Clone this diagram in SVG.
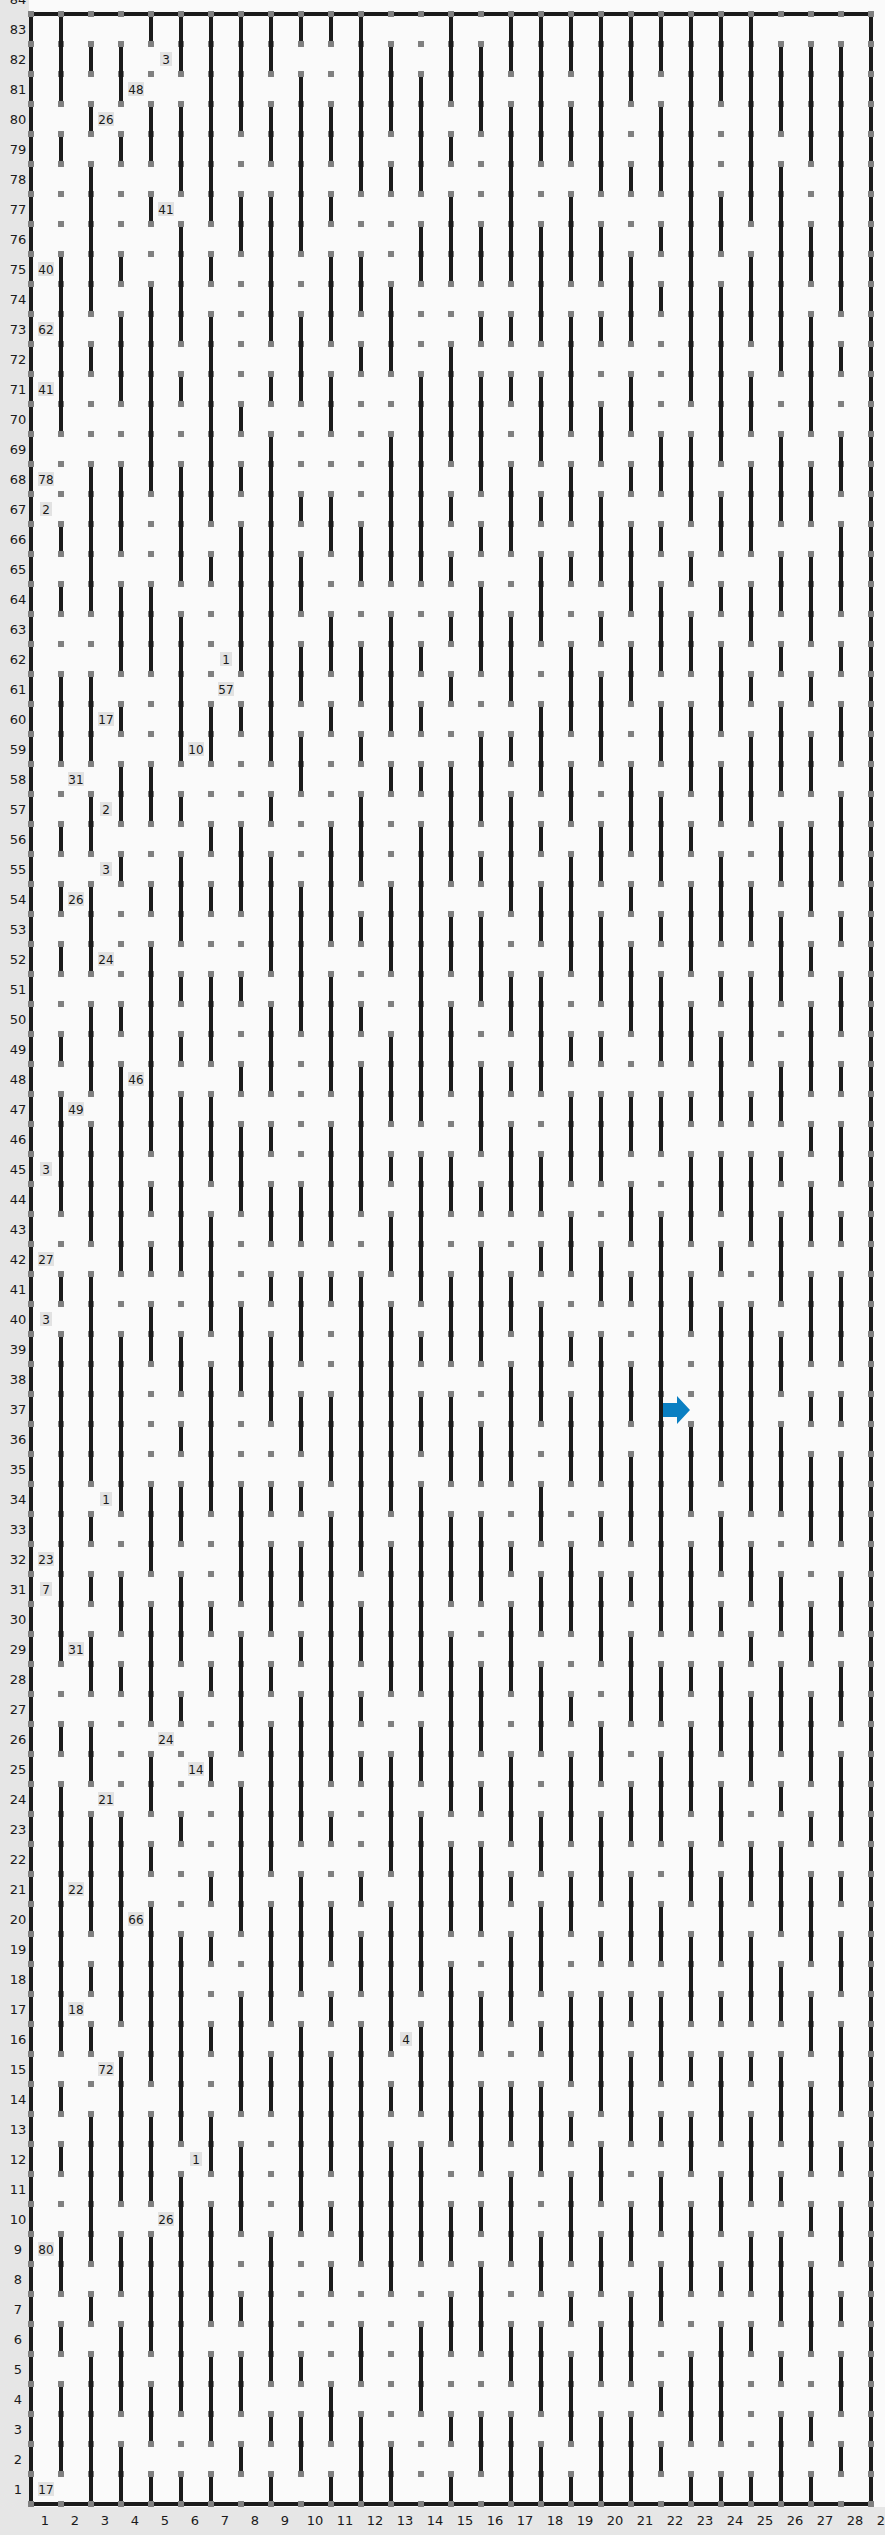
<svg xmlns="http://www.w3.org/2000/svg" width="885" height="2535" viewBox="0 0 885 2535">
<style>
.ax{font-family:"DejaVu Sans","Liberation Sans",sans-serif;font-size:13px;fill:#1a1a1a;text-anchor:middle}
.lb rect{fill:#e2e2e2}
.lb text{font-family:"DejaVu Sans","Liberation Sans",sans-serif;font-size:12px;fill:#1a1a1a;text-anchor:middle}
.wall{fill:none;stroke:#1a1a1a;stroke-width:4;stroke-linecap:butt;vector-effect:non-scaling-stroke}
</style>
<defs>
<pattern id="dots" patternUnits="userSpaceOnUse" x="28" y="11" width="30" height="30">
<rect x="0" y="0" width="6" height="6" fill="#808080"/>
</pattern>
</defs>
<rect x="0" y="0" width="885" height="2535" fill="#e6e6e6"/>
<rect x="29" y="0" width="856" height="2507" fill="#fafafa"/>
<g id="axis-rows" class="ax">
<text x="18" y="4">84</text><text x="18" y="34">83</text><text x="18" y="64">82</text><text x="18" y="94">81</text><text x="18" y="124">80</text><text x="18" y="154">79</text><text x="18" y="184">78</text><text x="18" y="214">77</text><text x="18" y="244">76</text><text x="18" y="274">75</text><text x="18" y="304">74</text><text x="18" y="334">73</text><text x="18" y="364">72</text><text x="18" y="394">71</text><text x="18" y="424">70</text><text x="18" y="454">69</text><text x="18" y="484">68</text><text x="18" y="514">67</text><text x="18" y="544">66</text><text x="18" y="574">65</text><text x="18" y="604">64</text><text x="18" y="634">63</text><text x="18" y="664">62</text><text x="18" y="694">61</text><text x="18" y="724">60</text><text x="18" y="754">59</text><text x="18" y="784">58</text><text x="18" y="814">57</text><text x="18" y="844">56</text><text x="18" y="874">55</text><text x="18" y="904">54</text><text x="18" y="934">53</text><text x="18" y="964">52</text><text x="18" y="994">51</text><text x="18" y="1024">50</text><text x="18" y="1054">49</text><text x="18" y="1084">48</text><text x="18" y="1114">47</text><text x="18" y="1144">46</text><text x="18" y="1174">45</text><text x="18" y="1204">44</text><text x="18" y="1234">43</text><text x="18" y="1264">42</text><text x="18" y="1294">41</text><text x="18" y="1324">40</text><text x="18" y="1354">39</text><text x="18" y="1384">38</text><text x="18" y="1414">37</text><text x="18" y="1444">36</text><text x="18" y="1474">35</text><text x="18" y="1504">34</text><text x="18" y="1534">33</text><text x="18" y="1564">32</text><text x="18" y="1594">31</text><text x="18" y="1624">30</text><text x="18" y="1654">29</text><text x="18" y="1684">28</text><text x="18" y="1714">27</text><text x="18" y="1744">26</text><text x="18" y="1774">25</text><text x="18" y="1804">24</text><text x="18" y="1834">23</text><text x="18" y="1864">22</text><text x="18" y="1894">21</text><text x="18" y="1924">20</text><text x="18" y="1954">19</text><text x="18" y="1984">18</text><text x="18" y="2014">17</text><text x="18" y="2044">16</text><text x="18" y="2074">15</text><text x="18" y="2104">14</text><text x="18" y="2134">13</text><text x="18" y="2164">12</text><text x="18" y="2194">11</text><text x="18" y="2224">10</text><text x="18" y="2254">9</text><text x="18" y="2284">8</text><text x="18" y="2314">7</text><text x="18" y="2344">6</text><text x="18" y="2374">5</text><text x="18" y="2404">4</text><text x="18" y="2434">3</text><text x="18" y="2464">2</text><text x="18" y="2494">1</text>
</g>
<g id="axis-cols" class="ax">
<text x="45" y="2525">1</text><text x="75" y="2525">2</text><text x="105" y="2525">3</text><text x="135" y="2525">4</text><text x="165" y="2525">5</text><text x="195" y="2525">6</text><text x="225" y="2525">7</text><text x="255" y="2525">8</text><text x="285" y="2525">9</text><text x="315" y="2525">10</text><text x="345" y="2525">11</text><text x="375" y="2525">12</text><text x="405" y="2525">13</text><text x="435" y="2525">14</text><text x="465" y="2525">15</text><text x="495" y="2525">16</text><text x="525" y="2525">17</text><text x="555" y="2525">18</text><text x="585" y="2525">19</text><text x="615" y="2525">20</text><text x="645" y="2525">21</text><text x="675" y="2525">22</text><text x="705" y="2525">23</text><text x="735" y="2525">24</text><text x="765" y="2525">25</text><text x="795" y="2525">26</text><text x="825" y="2525">27</text><text x="855" y="2525">28</text><text x="885" y="2525">29</text>
</g>
<g id="border">
<rect x="31" y="14" width="840" height="2490" fill="none" stroke="#1a1a1a" stroke-width="4"/>
</g>
<g id="grid-dots">
<rect x="28" y="11" width="846" height="2496" fill="url(#dots)"/>
</g>
<g id="connectors" transform="translate(31 2504) scale(30 -30)">
<path class="wall" d="M1 80.1V82.9M1 78.1V78.9M1 69.1V74.9M1 65.1V65.9M1 63.1V63.9M1 58.1V60.9M1 55.1V55.9M1 53.1V53.9M1 51.1V51.9M1 48.1V48.9M1 43.1V46.9M1 40.1V40.9M1 28.1V38.9M1 25.1V25.9M1 15.1V23.9M1 13.1V13.9M1 11.1V11.9M1 7.1V8.9M1 5.1V5.9M1 1.1V3.9"/>
<path class="wall" d="M2 81.1V81.9M2 79.1V79.9M2 73.1V77.9M2 71.1V71.9M2 63.1V67.9M2 58.1V60.9M2 55.1V56.9M2 51.1V53.9M2 47.1V49.9M2 42.1V45.9M2 34.1V40.9M2 32.1V32.9M2 30.1V30.9M2 27.1V28.9M2 24.1V25.9M2 19.1V22.9M2 17.1V17.9M2 15.1V15.9M2 8.1V12.9M2 6.1V6.9M2 0.1V4.9"/>
<path class="wall" d="M3 80.1V81.9M3 78.1V78.9M3 74.1V74.9M3 70.1V72.9M3 65.1V67.9M3 61.1V63.9M3 59.1V59.9M3 56.1V57.9M3 54.1V54.9M3 49.1V49.9M3 41.1V47.9M3 33.1V38.9M3 29.1V30.9M3 27.1V27.9M3 16.1V22.9M3 10.1V14.9M3 7.1V8.9M3 3.1V5.9M3 0.1V1.9"/>
<path class="wall" d="M4 82.1V82.9M4 78.1V79.9M4 76.1V76.9M4 67.1V73.9M4 61.1V63.9M4 56.1V57.9M4 53.1V53.9M4 45.1V51.9M4 43.1V43.9M4 41.1V41.9M4 38.1V39.9M4 31.1V33.9M4 26.1V29.9M4 23.1V24.9M4 21.1V21.9M4 14.1V19.9M4 10.1V12.9M4 5.1V8.9M4 2.1V3.9M4 0.1V0.9"/>
<path class="wall" d="M5 81.1V82.9M5 77.1V79.9M5 72.1V75.9M5 70.1V70.9M5 64.1V67.9M5 58.1V62.9M5 56.1V56.9M5 52.1V54.9M5 50.1V50.9M5 48.1V48.9M5 41.1V46.9M5 37.1V38.9M5 35.1V35.9M5 32.1V33.9M5 28.1V30.9M5 26.1V26.9M5 22.1V22.9M5 12.1V18.9M5 3.1V10.9M5 0.1V0.9"/>
<path class="wall" d="M6 76.1V82.9M6 74.1V74.9M6 66.1V72.9M6 64.1V64.9M6 58.1V59.9M6 55.1V55.9M6 53.1V53.9M6 48.1V50.9M6 44.1V46.9M6 39.1V42.9M6 33.1V37.9M6 29.1V29.9M6 27.1V27.9M6 24.1V24.9M6 20.1V20.9M6 18.1V18.9M6 15.1V15.9M6 11.1V12.9M6 6.1V9.9M6 2.1V4.9M6 0.1V0.9"/>
<path class="wall" d="M7 79.1V82.9M7 75.1V76.9M7 69.1V69.9M7 67.1V67.9M7 61.1V65.9M7 59.1V59.9M7 53.1V55.9M7 50.1V50.9M7 47.1V47.9M7 43.1V45.9M7 37.1V39.9M7 30.1V33.9M7 25.1V28.9M7 19.1V23.9M7 13.1V16.9M7 9.1V11.9M7 6.1V6.9M7 3.1V4.9M7 1.1V1.9"/>
<path class="wall" d="M8 81.1V82.9M8 78.1V79.9M8 72.1V76.9M8 70.1V70.9M8 58.1V68.9M8 56.1V56.9M8 51.1V54.9M8 47.1V49.9M8 45.1V45.9M8 42.1V43.9M8 40.1V40.9M8 36.1V38.9M8 33.1V33.9M8 29.1V31.9M8 27.1V27.9M8 21.1V25.9M8 16.1V19.9M8 13.1V14.9M8 4.1V8.9M8 2.1V2.9M8 0.1V0.9"/>
<path class="wall" d="M9 82.1V82.9M9 75.1V80.9M9 70.1V72.9M9 66.1V66.9M9 63.1V64.9M9 60.1V61.9M9 57.1V58.9M9 49.1V53.9M9 42.1V43.9M9 38.1V40.9M9 35.1V36.9M9 33.1V33.9M9 30.1V31.9M9 28.1V28.9M9 22.1V26.9M9 17.1V20.9M9 9.1V15.9M9 4.1V4.9M9 1.1V2.9"/>
<path class="wall" d="M10 82.1V82.9M10 78.1V79.9M10 76.1V76.9M10 72.1V74.9M10 69.1V70.9M10 65.1V66.9M10 61.1V62.9M10 59.1V59.9M10 52.1V55.9M10 47.1V50.9M10 42.1V45.9M10 40.1V40.9M10 34.1V36.9M10 24.1V32.9M10 22.1V22.9M10 18.1V19.9M10 16.1V16.9M10 11.1V14.9M10 9.1V9.9M10 7.1V7.9M10 2.1V3.9M10 0.1V0.9"/>
<path class="wall" d="M11 77.1V82.9M11 73.1V74.9M11 71.1V71.9M11 64.1V65.9M11 60.1V61.9M11 58.1V58.9M11 54.1V56.9M11 52.1V52.9M11 49.1V49.9M11 43.1V47.9M11 31.1V40.9M11 28.1V29.9M11 26.1V26.9M11 24.1V24.9M11 20.1V20.9M11 17.1V18.9M11 8.1V15.9M11 4.1V5.9M11 0.1V2.9"/>
<path class="wall" d="M12 79.1V81.9M12 77.1V77.9M12 71.1V73.9M12 64.1V68.9M12 59.1V62.9M12 57.1V57.9M12 51.1V53.9M12 46.1V48.9M12 44.1V44.9M12 41.1V42.9M12 33.1V39.9M12 27.1V31.9M12 21.1V24.9M12 15.1V19.9M12 13.1V13.9M12 7.1V11.9M12 0.1V1.9"/>
<path class="wall" d="M13 77.1V80.9M13 74.1V75.9M13 64.1V70.9M13 61.1V61.9M13 59.1V59.9M13 57.1V57.9M13 46.1V55.9M13 40.1V44.9M13 38.1V38.9M13 35.1V36.9M13 27.1V33.9M13 24.1V25.9M13 17.1V22.9M13 13.1V15.9M13 8.1V11.9M13 3.1V5.9"/>
<path class="wall" d="M14 80.1V82.9M14 78.1V78.9M14 74.1V76.9M14 68.1V71.9M14 66.1V66.9M14 64.1V64.9M14 62.1V62.9M14 60.1V60.9M14 54.1V57.9M14 51.1V52.9M14 47.1V49.9M14 43.1V44.9M14 38.1V40.9M14 34.1V36.9M14 30.1V32.9M14 23.1V28.9M14 19.1V21.9M14 12.1V17.9M14 8.1V9.9M14 5.1V6.9M14 2.1V2.9M14 0.1V0.9"/>
<path class="wall" d="M15 79.1V81.9M15 74.1V75.9M15 72.1V72.9M15 67.1V70.9M15 65.1V65.9M15 61.1V63.9M15 56.1V58.9M15 54.1V54.9M15 50.1V52.9M15 45.1V47.9M15 43.1V43.9M15 38.1V41.9M15 34.1V35.9M15 30.1V32.9M15 25.1V27.9M15 23.1V23.9M15 19.1V21.9M15 15.1V16.9M15 11.1V13.9M15 9.1V9.9M15 5.1V7.9M15 1.1V2.9"/>
<path class="wall" d="M16 81.1V82.9M16 74.1V79.9M16 72.1V72.9M16 70.1V70.9M16 65.1V67.9M16 60.1V62.9M16 58.1V58.9M16 53.1V56.9M16 49.1V50.9M16 47.1V47.9M16 43.1V45.9M16 39.1V40.9M16 34.1V37.9M16 31.1V31.9M16 27.1V29.9M16 22.1V24.9M16 20.1V20.9M16 16.1V18.9M16 12.1V13.9M16 8.1V10.9M16 4.1V5.9M16 0.1V2.9"/>
<path class="wall" d="M17 78.1V82.9M17 72.1V75.9M17 68.1V70.9M17 66.1V66.9M17 62.1V64.9M17 57.1V59.9M17 55.1V55.9M17 52.1V53.9M17 47.1V50.9M17 43.1V44.9M17 41.1V41.9M17 36.1V39.9M17 32.1V33.9M17 29.1V30.9M17 25.1V27.9M17 21.1V22.9M17 17.1V19.9M17 15.1V15.9M17 11.1V13.9M17 7.1V8.9M17 3.1V5.9M17 0.1V1.9"/>
<path class="wall" d="M18 81.1V82.9M18 78.1V79.9M18 74.1V76.9M18 69.1V72.9M18 66.1V67.9M18 64.1V64.9M18 59.1V61.9M18 56.1V57.9M18 51.1V54.9M18 48.1V48.9M18 44.1V46.9M18 41.1V42.9M18 38.1V38.9M18 34.1V36.9M18 29.1V31.9M18 26.1V26.9M18 22.1V24.9M18 19.1V20.9M18 14.1V16.9M18 12.1V12.9M18 8.1V10.9M18 6.1V6.9M18 2.1V4.9M18 0.1V0.9"/>
<path class="wall" d="M19 77.1V82.9M19 74.1V75.9M19 72.1V72.9M19 68.1V69.9M19 64.1V66.9M19 62.1V62.9M19 58.1V60.9M19 54.1V55.9M19 50.1V52.9M19 48.1V48.9M19 44.1V46.9M19 40.1V41.9M19 34.1V38.9M19 32.1V32.9M19 28.1V30.9M19 24.1V25.9M19 20.1V22.9M19 18.1V18.9M19 13.1V16.9M19 10.1V11.9M19 7.1V8.9M19 4.1V5.9M19 0.1V2.9"/>
<path class="wall" d="M20 80.1V82.9M20 77.1V77.9M20 72.1V74.9M20 69.1V70.9M20 67.1V67.9M20 63.1V65.9M20 60.1V61.9M20 55.1V57.9M20 53.1V53.9M20 49.1V51.9M20 45.1V46.9M20 42.1V43.9M20 40.1V40.9M20 36.1V37.9M20 32.1V34.9M20 30.1V30.9M20 26.1V28.9M20 22.1V23.9M20 18.1V20.9M20 16.1V16.9M20 12.1V14.9M20 8.1V9.9M20 4.1V6.9M20 0.1V2.9"/>
<path class="wall" d="M21 81.1V82.9M21 77.1V79.9M21 75.1V75.9M21 73.1V73.9M21 67.1V68.9M21 65.1V65.9M21 61.1V63.9M21 58.1V59.9M21 54.1V56.9M21 52.1V52.9M21 48.1V50.9M21 45.1V46.9M21 29.1V42.9M21 26.1V27.9M21 22.1V24.9M21 18.1V19.9M21 14.1V16.9M21 12.1V12.9M21 9.1V10.9M21 6.1V7.9M21 3.1V3.9M21 1.1V1.9"/>
<path class="wall" d="M22 70.1V82.9M22 66.1V68.9M22 64.1V64.9M22 61.1V62.9M22 57.1V59.9M22 55.1V55.9M22 51.1V53.9M22 48.1V49.9M22 46.1V46.9M22 42.1V44.9M22 39.1V40.9M22 33.1V35.9M22 29.1V31.9M22 27.1V27.9M22 23.1V25.9M22 20.1V21.9M22 16.1V18.9M22 14.1V14.9M22 11.1V12.9M22 7.1V9.9M22 2.1V4.9M22 0.1V0.9"/>
<path class="wall" d="M23 80.1V82.9M23 75.1V76.9M23 68.1V73.9M23 65.1V66.9M23 63.1V63.9M23 59.1V61.9M23 56.1V57.9M23 52.1V54.9M23 50.1V50.9M23 46.1V48.9M23 43.1V44.9M23 41.1V41.9M23 34.1V39.9M23 31.1V32.9M23 29.1V29.9M23 25.1V27.9M23 22.1V23.9M23 18.1V20.9M23 16.1V16.9M23 12.1V14.9M23 9.1V10.9M23 7.1V7.9M23 2.1V5.9M23 0.1V0.9"/>
<path class="wall" d="M24 76.1V82.9M24 72.1V74.9M24 69.1V70.9M24 65.1V67.9M24 62.1V63.9M24 60.1V60.9M24 56.1V58.9M24 52.1V53.9M24 48.1V50.9M24 46.1V46.9M24 42.1V44.9M24 33.1V39.9M24 30.1V31.9M24 28.1V28.9M24 24.1V26.9M24 20.1V21.9M24 16.1V18.9M24 14.1V14.9M24 10.1V12.9M24 7.1V8.9M24 5.1V5.9M24 0.1V0.9"/>
<path class="wall" d="M25 79.1V81.9M25 71.1V77.9M25 66.1V68.9M25 63.1V64.9M25 61.1V61.9M25 57.1V59.9M25 54.1V55.9M25 50.1V52.9M25 46.1V47.9M25 44.1V44.9M25 40.1V42.9M25 37.1V38.9M25 33.1V35.9M25 29.1V30.9M25 25.1V27.9M25 23.1V23.9M25 19.1V21.9M25 16.1V17.9M25 12.1V14.9M25 10.1V10.9M25 6.1V8.9M25 4.1V4.9M25 0.1V2.9"/>
<path class="wall" d="M26 78.1V81.9M26 74.1V75.9M26 69.1V72.9M26 66.1V67.9M26 62.1V64.9M26 60.1V60.9M26 57.1V58.9M26 53.1V55.9M26 51.1V51.9M26 47.1V49.9M26 45.1V45.9M26 42.1V43.9M26 38.1V40.9M26 36.1V36.9M26 32.1V34.9M26 28.1V29.9M26 24.1V26.9M26 22.1V22.9M26 18.1V20.9M26 15.1V16.9M26 11.1V13.9M26 9.1V9.9M26 5.1V7.9M26 2.1V2.9M26 0.1V0.9"/>
<path class="wall" d="M27 73.1V81.9M27 71.1V71.9M27 67.1V68.9M27 63.1V65.9M27 61.1V61.9M27 58.1V59.9M27 54.1V56.9M27 52.1V52.9M27 49.1V50.9M27 47.1V47.9M27 44.1V45.9M27 42.1V42.9M27 38.1V40.9M27 36.1V36.9M27 32.1V34.9M27 29.1V30.9M27 26.1V27.9M27 22.1V24.9M27 20.1V20.9M27 17.1V18.9M27 13.1V15.9M27 11.1V11.9M27 8.1V9.9M27 6.1V6.9M27 3.1V4.9M27 1.1V1.9"/>
</g>
<g id="marker-arrow">
<polygon points="663,1403 677,1403 677,1396 690,1410 677,1424 677,1417 663,1417" fill="#0a7fc2"/>
</g>
<g id="labels">
<g id="l1" class="lb"><rect x="160" y="52" width="12" height="14"/><text x="166" y="63.5">3</text></g>
<g id="l2" class="lb"><rect x="128" y="82" width="16" height="14"/><text x="136" y="93.5">48</text></g>
<g id="l3" class="lb"><rect x="98" y="112" width="16" height="14"/><text x="106" y="123.5">26</text></g>
<g id="l4" class="lb"><rect x="158" y="202" width="16" height="14"/><text x="166" y="213.5">41</text></g>
<g id="l5" class="lb"><rect x="38" y="262" width="16" height="14"/><text x="46" y="273.5">40</text></g>
<g id="l6" class="lb"><rect x="38" y="322" width="16" height="14"/><text x="46" y="333.5">62</text></g>
<g id="l7" class="lb"><rect x="38" y="382" width="16" height="14"/><text x="46" y="393.5">41</text></g>
<g id="l8" class="lb"><rect x="38" y="472" width="16" height="14"/><text x="46" y="483.5">78</text></g>
<g id="l9" class="lb"><rect x="40" y="502" width="12" height="14"/><text x="46" y="513.5">2</text></g>
<g id="l10" class="lb"><rect x="220" y="652" width="12" height="14"/><text x="226" y="663.5">1</text></g>
<g id="l11" class="lb"><rect x="218" y="682" width="16" height="14"/><text x="226" y="693.5">57</text></g>
<g id="l12" class="lb"><rect x="98" y="712" width="16" height="14"/><text x="106" y="723.5">17</text></g>
<g id="l13" class="lb"><rect x="188" y="742" width="16" height="14"/><text x="196" y="753.5">10</text></g>
<g id="l14" class="lb"><rect x="68" y="772" width="16" height="14"/><text x="76" y="783.5">31</text></g>
<g id="l15" class="lb"><rect x="100" y="802" width="12" height="14"/><text x="106" y="813.5">2</text></g>
<g id="l16" class="lb"><rect x="100" y="862" width="12" height="14"/><text x="106" y="873.5">3</text></g>
<g id="l17" class="lb"><rect x="68" y="892" width="16" height="14"/><text x="76" y="903.5">26</text></g>
<g id="l18" class="lb"><rect x="98" y="952" width="16" height="14"/><text x="106" y="963.5">24</text></g>
<g id="l19" class="lb"><rect x="128" y="1072" width="16" height="14"/><text x="136" y="1083.5">46</text></g>
<g id="l20" class="lb"><rect x="68" y="1102" width="16" height="14"/><text x="76" y="1113.5">49</text></g>
<g id="l21" class="lb"><rect x="40" y="1162" width="12" height="14"/><text x="46" y="1173.5">3</text></g>
<g id="l22" class="lb"><rect x="38" y="1252" width="16" height="14"/><text x="46" y="1263.5">27</text></g>
<g id="l23" class="lb"><rect x="40" y="1312" width="12" height="14"/><text x="46" y="1323.5">3</text></g>
<g id="l24" class="lb"><rect x="100" y="1492" width="12" height="14"/><text x="106" y="1503.5">1</text></g>
<g id="l25" class="lb"><rect x="38" y="1552" width="16" height="14"/><text x="46" y="1563.5">23</text></g>
<g id="l26" class="lb"><rect x="40" y="1582" width="12" height="14"/><text x="46" y="1593.5">7</text></g>
<g id="l27" class="lb"><rect x="68" y="1642" width="16" height="14"/><text x="76" y="1653.5">31</text></g>
<g id="l28" class="lb"><rect x="158" y="1732" width="16" height="14"/><text x="166" y="1743.5">24</text></g>
<g id="l29" class="lb"><rect x="188" y="1762" width="16" height="14"/><text x="196" y="1773.5">14</text></g>
<g id="l30" class="lb"><rect x="98" y="1792" width="16" height="14"/><text x="106" y="1803.5">21</text></g>
<g id="l31" class="lb"><rect x="68" y="1882" width="16" height="14"/><text x="76" y="1893.5">22</text></g>
<g id="l32" class="lb"><rect x="128" y="1912" width="16" height="14"/><text x="136" y="1923.5">66</text></g>
<g id="l33" class="lb"><rect x="68" y="2002" width="16" height="14"/><text x="76" y="2013.5">18</text></g>
<g id="l34" class="lb"><rect x="400" y="2032" width="12" height="14"/><text x="406" y="2043.5">4</text></g>
<g id="l35" class="lb"><rect x="98" y="2062" width="16" height="14"/><text x="106" y="2073.5">72</text></g>
<g id="l36" class="lb"><rect x="190" y="2152" width="12" height="14"/><text x="196" y="2163.5">1</text></g>
<g id="l37" class="lb"><rect x="158" y="2212" width="16" height="14"/><text x="166" y="2223.5">26</text></g>
<g id="l38" class="lb"><rect x="38" y="2242" width="16" height="14"/><text x="46" y="2253.5">80</text></g>
<g id="l39" class="lb"><rect x="38" y="2482" width="16" height="14"/><text x="46" y="2493.5">17</text></g>
</g>
</svg>
